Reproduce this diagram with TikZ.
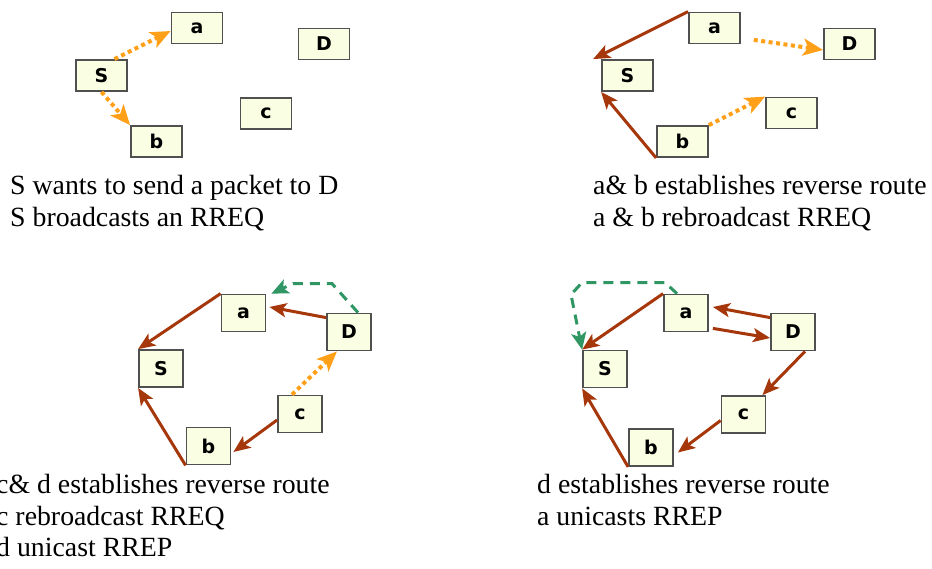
\documentclass[tikz,border=0pt]{standalone}
\usepackage{fontspec}
\setmainfont{Liberation Serif}
\newfontfamily\lblfont{DejaVu Sans}
\usetikzlibrary{arrows.meta}

\definecolor{boxfill}{RGB}{250,255,228}
\definecolor{boxline}{RGB}{80,80,80}
\definecolor{routebrown}{RGB}{165,55,10}
\definecolor{reqorange}{RGB}{255,160,24}
\definecolor{repgreen}{RGB}{48,150,100}

\begin{document}
\begin{tikzpicture}[x=1pt, y=-1pt,
  box/.style={rectangle, draw=boxline, line width=1.8pt, fill=boxfill, minimum width=51pt, minimum height=31pt, inner sep=0pt, font=\lblfont\bfseries\fontsize{19}{19}\selectfont},
  sqbox/.style={box, minimum width=44pt, minimum height=37pt},
  txt/.style={anchor=base west, inner sep=0pt, font=\fontsize{27.8}{31}\selectfont},
  route/.style={draw=routebrown, line width=3pt, -{Stealth[length=17pt, width=14pt, inset=4pt]}},
  rreq/.style={draw=reqorange, line width=4pt, dash pattern=on 4pt off 3.5pt, -{Stealth[length=20pt, width=17pt, inset=5pt]}},
  rrep/.style={draw=repgreen, line width=3pt, dash pattern=on 10pt off 7pt, -{Stealth[length=17pt, width=15pt, inset=4pt]}}]
  \useasboundingbox (0,0) rectangle (932,569);

  % S broadcasts
  \node (a1) [box] at (197,28) {a};
  \node (D1) [box] at (324,44) {D};
  \node (S1) [box] at (101.5,75.5) {S};
  \node (c1) [box] at (266,113.5) {c};
  \node (b1) [box] at (156.5,141.5) {b};
  \draw[rreq] ([xshift=13pt]S1.north) -- ([yshift=-3pt]a1.west);
  \draw[rreq] (S1.south) -- (b1.north west);
  \node (t1a) [txt] at (10,195) {S wants to send a packet to D};
  \node (t1b) [txt] at (10,227) {S broadcasts an RREQ};

  % a & b rebroadcast
  \node (a2) [box] at (714.5,28) {a};
  \node (D2) [box] at (849.5,44) {D};
  \node (S2) [box] at (627.5,75.5) {S};
  \node (c2) [box] at (791.5,113) {c};
  \node (b2) [box] at (682.5,141.5) {b};
  \draw[route] (a2.north west) -- ([xshift=-8pt]S2.north west);
  \draw[route] (b2.south west) -- (S2.south west);
  \draw[rreq, shorten <=13pt] ([yshift=-10pt]a2.east) -- ([yshift=-6pt]D2.west);
  \draw[rreq] (b2.north east) -- (c2.north west);
  \node (t2a) [txt] at (593,195) {a\& b establishes reverse route};
  \node (t2b) [txt] at (593,227) {a \& b rebroadcast RREQ};

  % c rebroadcasts, D replies
  \node (a3) [sqbox] at (243.5,313) {a};
  \node (D3) [sqbox] at (349,332) {D};
  \node (S3) [sqbox] at (161,368.5) {S};
  \node (c3) [sqbox] at (300,414) {c};
  \node (b3) [sqbox] at (208.5,446) {b};
  \draw[route] (a3.north west) -- (S3.north west);
  \draw[route] ([yshift=-5pt]D3.north west) -- ([xshift=3pt, yshift=6pt]a3.east);
  \draw[rrep] ([xshift=9pt]D3.north) -- ++(-26,-29) -- ++(-39,0) -- ([xshift=5pt]a3.north east);
  \draw[rreq] ([xshift=-8pt]c3.north) -- ([xshift=-12pt]D3.south);
  \draw[route] ([yshift=-6pt]c3.west) -- ([xshift=2pt, yshift=-6pt]b3.east);
  \draw[route] (b3.south west) -- (S3.south west);
  \node (t3a) [txt] at (-4,493) {c\& d establishes reverse route};
  \node (t3b) [txt] at (-4,525) {c rebroadcast RREQ};
  \node (t3c) [txt] at (-4,556) {d unicast RREP};

  % a unicasts RREP
  \node (a4) [sqbox] at (686,313) {a};
  \node (D4) [sqbox] at (793,332) {D};
  \node (S4) [sqbox] at (605,369) {S};
  \node (c4) [sqbox] at (743.5,414.5) {c};
  \node (b4) [sqbox] at (651,447.5) {b};
  \draw[route] (a4.north west) -- (S4.north west);
  \draw[route] ([yshift=-5pt]D4.north west) -- ([xshift=4pt, yshift=6pt]a4.east);
  \draw[route] ([xshift=4pt, yshift=4pt]a4.south east) -- ([yshift=-6pt]D4.west);
  \draw[route] ([xshift=12pt]D4.south) -- ([xshift=-4pt]c4.north east);
  \draw[route] ([yshift=-6pt]c4.west) -- ([xshift=4pt, yshift=-5pt]b4.east);
  \draw[route] (b4.south west) -- (S4.south west);
  \draw[rrep] ([xshift=-9pt]a4.north) -- ++(-12,-11) -- ++(-83,0) -- ++(-11,12) -- (S4.north west);
  \node (t4a) [txt] at (537,493) {d establishes reverse route};
  \node (t4b) [txt] at (537,525) {a unicasts RREP};
\end{tikzpicture}
\end{document}
